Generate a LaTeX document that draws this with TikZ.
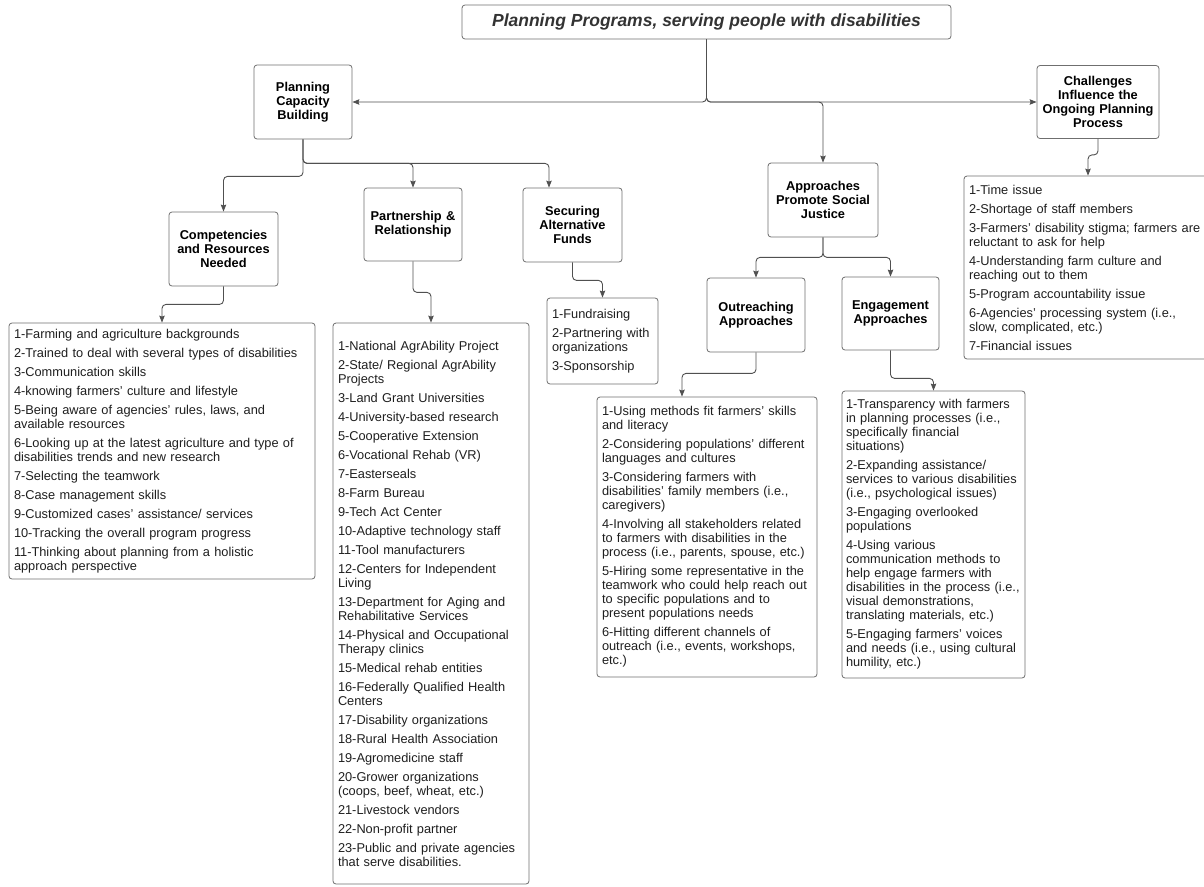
\documentclass[tikz,border=0pt]{standalone}
\usepackage{fontspec}
\setmainfont{Liberation Sans}
\usetikzlibrary{arrows.meta,positioning,calc}
\definecolor{boxgray}{HTML}{6F6F6F}
\definecolor{linegray}{HTML}{505050}
\definecolor{titlegray}{HTML}{333333}
\tikzset{
	titlebox/.style={
		rectangle,
		rounded corners=3pt,
		draw=boxgray,
		line width=0.8pt,
		text=titlegray,
		font=\bfseries\itshape\fontsize{17.5}{20}\selectfont,
	},
	headbox/.style={
		rectangle,
		rounded corners=3pt,
		draw=boxgray,
		line width=0.8pt,
		align=center,
		inner xsep=2pt,
		font=\bfseries\fontsize{12.8}{14}\selectfont,
	},
	listbox/.style={
		rectangle,
		rounded corners=3pt,
		draw=boxgray,
		line width=0.8pt,
		align=left,
		inner xsep=5pt,
		inner ysep=0pt,
		text=black!88,
		font=\fontsize{12.8}{14}\selectfont,
		execute at begin node={\setlength{\parskip}{5pt}},
	},
	conn/.style={
		->,
		draw=linegray,
		line width=0.9pt,
		rounded corners=4pt,
	},
}
\begin{document}
\begin{tikzpicture}[x=1pt,y=-1pt,>={Stealth[length=7pt,width=5.5pt,inset=1pt]}]
	\path[use as bounding box,fill=white] (0,0) rectangle (1204,886);

	\node [titlebox,minimum width=489pt,minimum height=34pt] (title) at (706.5,22) {Planning Programs, serving people with disabilities};

	\node [headbox,text width=94pt,minimum height=74pt] (pcb) at (303,102) {Planning\\Capacity\\Building};
	\node [headbox,text width=118pt,minimum height=73pt] (chal) at (1098,102) {Challenges\\Influence the\\Ongoing Planning\\Process};
	\node [headbox,text width=106pt,minimum height=74pt] (appr) at (823,200) {Approaches\\Promote Social\\Justice};

	\node [headbox,text width=105pt,minimum height=74pt] (comp) at (223.5,249) {Competencies\\and Resources\\Needed};
	\node [headbox,text width=94pt,minimum height=73pt] (part) at (413,224.5) {Partnership \&\\Relationship};
	\node [headbox,text width=95pt,minimum height=74pt] (sec) at (572.5,225) {Securing\\Alternative\\Funds};
	\node [headbox,text width=94pt,minimum height=74pt] (outr) at (756,315) {Outreaching\\Approaches};
	\node [headbox,text width=93pt,minimum height=73pt] (eng) at (890.5,313.5) {Engagement\\Approaches};

	\node [listbox,text width=296pt,minimum height=256pt] (complist) at (162,451) {1-Farming and agriculture backgrounds\par
		2-Trained to deal with several types of disabilities\par
		3-Communication skills\par
		4-knowing farmers' culture and lifestyle\par
		5-Being aware of agencies' rules, laws, and\\available resources\par
		6-Looking up at the latest agriculture and type of\\disabilities trends and new research\par
		7-Selecting the teamwork\par
		8-Case management skills\par
		9-Customized cases' assistance/ services\par
		10-Tracking the overall program progress\par
		11-Thinking about planning from a holistic\\approach perspective};

	\node [listbox,text width=186pt,minimum height=561pt] (partlist) at (431,603.5) {1-National AgrAbility Project\par
		2-State/ Regional AgrAbility\\Projects\par
		3-Land Grant Universities\par
		4-University-based research\par
		5-Cooperative Extension\par
		6-Vocational Rehab (VR)\par
		7-Easterseals\par
		8-Farm Bureau\par
		9-Tech Act Center\par
		10-Adaptive technology staff\par
		11-Tool manufacturers\par
		12-Centers for Independent\\Living\par
		13-Department for Aging and\\Rehabilitative Services\par
		14-Physical and Occupational\\Therapy clinics\par
		15-Medical rehab entities\par
		16-Federally Qualified Health\\Centers\par
		17-Disability organizations\par
		18-Rural Health Association\par
		19-Agromedicine staff\par
		20-Grower organizations\\(coops, beef, wheat, etc.)\par
		21-Livestock vendors\par
		22-Non-profit partner\par
		23-Public and private agencies\\that serve disabilities.};

	\node [listbox,text width=101pt,minimum height=86pt] (fundlist) at (602.5,341) {1-Fundraising\par
		2-Partnering with\\organizations\par
		3-Sponsorship};

	\node [listbox,text width=210pt,minimum height=280pt] (outlist) at (707,537) {1-Using methods fit farmers' skills\\and literacy\par
		2-Considering populations' different\\languages and cultures\par
		3-Considering farmers with\\disabilities' family members (i.e.,\\caregivers)\par
		4-Involving all stakeholders related\\to farmers with disabilities in the\\process (i.e., parents, spouse, etc.)\par
		5-Hiring some representative in the\\teamwork who could help reach out\\to specific populations and to\\present populations needs\par
		6-Hitting different channels of\\outreach (i.e., events, workshops,\\etc.)};

	\node [listbox,inner xsep=4pt,text width=175pt,minimum height=287pt] (englist) at (933.5,534.5) {1-Transparency with farmers\\in planning processes (i.e.,\\specifically financial\\situations)\par
		2-Expanding assistance/\\services to various disabilities\\(i.e., psychological issues)\par
		3-Engaging overlooked\\populations\par
		4-Using various\\communication methods to\\help engage farmers with\\disabilities in the process (i.e.,\\visual demonstrations,\\translating materials, etc.)\par
		5-Engaging farmers' voices\\and needs (i.e., using cultural\\humility, etc.)};

	\node [listbox,text width=238pt,minimum height=183pt] (challist) at (1088,267.5) {1-Time issue\par
		2-Shortage of staff members\par
		3-Farmers' disability stigma; farmers are\\reluctant to ask for help\par
		4-Understanding farm culture and\\reaching out to them\par
		5-Program accountability issue\par
		6-Agencies' processing system (i.e.,\\slow, complicated, etc.)\par
		7-Financial issues};

	\draw[conn] (title.south) |- (pcb.east);
	\draw[conn] (title.south) |- (chal.west);
	\draw[conn] (title.south) |- (appr.north |- pcb.east) -- (appr.north);

	\draw[conn] (pcb.south) -- ++(0,24) -| (part.north);
	\draw[conn] (pcb.south) -- ++(0,24) -| ([xshift=-23.5pt]sec.north);
	\draw[conn] (pcb.south) -- ++(0,37) -| (comp.north);

	\draw[conn] (comp.south) -- ++(0,18) -| (complist.north);
	\draw[conn] (part.south) -- ++(0,31) -| (partlist.north);
	\draw[conn] (sec.south) -- ++(0,18) -| (fundlist.north);

	\draw[conn] (appr.south) -- ++(0,20) -| (outr.north);
	\draw[conn] (appr.south) -- ++(0,20) -| (eng.north);
	\draw[conn] (outr.south) -- ++(0,21) -| ([xshift=-25pt]outlist.north);
	\draw[conn] (eng.south) -- ++(0,28) -| (englist.north);

	\draw[conn] (chal.south) -- ++(0,16) -| (challist.north);
\end{tikzpicture}
\end{document}
